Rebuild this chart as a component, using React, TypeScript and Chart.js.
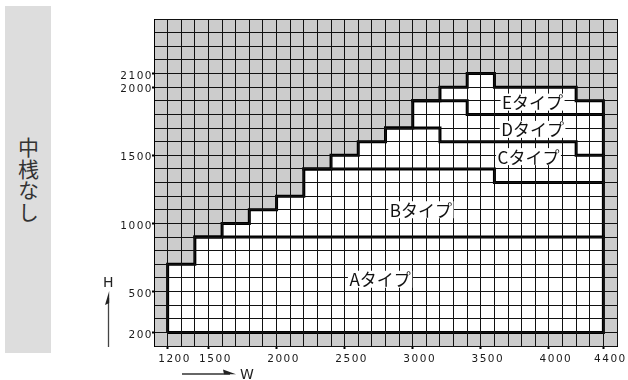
import React, { useEffect, useRef } from 'react';
import { Chart, registerables } from 'chart.js';

Chart.register(...registerables);

// ---- data ----
const xTickLabels = [1200, 1500, 2000, 2500, 3000, 3500, 4000, 4400];
const yTickLabels = [200, 500, 1000, 1500, 2000, 2100];

// overall feasible outline (W, H)
const outlineW = [1200, 1200, 1400, 1400, 1600, 1600, 1800, 1800, 2000, 2000, 2200, 2200, 2400, 2400, 2600, 2600, 2800, 2800, 3000, 3000, 3200, 3200, 3400, 3400, 3600, 3600, 4200, 4200, 4400, 4400, 1200];
const outlineH = [200, 700, 700, 900, 900, 1000, 1000, 1100, 1100, 1200, 1200, 1400, 1400, 1500, 1500, 1600, 1600, 1700, 1700, 1900, 1900, 2000, 2000, 2100, 2100, 2000, 2000, 1900, 1900, 200, 200];

// type boundaries
const abW = [1400, 4400];
const abH = [900, 900];
const bcW = [2200, 3600, 3600, 4400];
const bcH = [1400, 1400, 1300, 1300];
const cdW = [2800, 3200, 3200, 4200, 4200, 4400];
const cdH = [1700, 1700, 1600, 1600, 1500, 1500];
const deW = [3000, 3400, 3400, 4400];
const deH = [1900, 1900, 1800, 1800];

// type labels
const typeNames = ['Aタイプ', 'Bタイプ', 'Cタイプ', 'Dタイプ', 'Eタイプ'];
const typeLabelW = [2760, 3060, 3850, 3880, 3880];
const typeLabelH = [590, 1100, 1490, 1690, 1890];

const xMin = 1100, xMax = 4500, yMin = 100, yMax = 2500, gridStep = 100;

const pts = (ws: number[], hs: number[]) => ws.map((w, i) => ({ x: w, y: hs[i] }));

const bgPlugin = {
  id: 'bgPlugin',
  beforeDraw(chart: any) {
    const { ctx, chartArea } = chart;
    ctx.save();
    ctx.fillStyle = '#cccccc';
    ctx.fillRect(chartArea.left, chartArea.top, chartArea.right - chartArea.left, chartArea.bottom - chartArea.top);
    ctx.restore();
    try { (ctx as any).letterSpacing = '1.5px'; } catch (e) { /* ignore */ }
  },
  afterDraw(chart: any) {
    const { ctx, scales } = chart;
    try { (ctx as any).letterSpacing = '0px'; } catch (e) { /* ignore */ }
    ctx.save();
    ctx.font = '17px "Noto Sans CJK JP", "Noto Sans", sans-serif';
    ctx.textAlign = 'center';
    ctx.textBaseline = 'middle';
    typeNames.forEach((name, i) => {
      const px = scales.x.getPixelForValue(typeLabelW[i]);
      const py = scales.y.getPixelForValue(typeLabelH[i]);
      const w = ctx.measureText(name).width;
      ctx.fillStyle = '#ffffff';
      ctx.fillRect(px - w / 2 - 1.5, py - 8.5, w + 3, 17);
      ctx.fillStyle = '#111111';
      ctx.fillText(name, px, py + 0.5);
    });
    ctx.restore();
  },
};

const tickFont = { family: '"DejaVu Sans", sans-serif', size: 10.5 };

export default function App() {
  const ref = useRef<HTMLCanvasElement>(null);

  useEffect(() => {
    if (!ref.current) return;
    const lineDs = (ws: number[], hs: number[]) => ({
      data: pts(ws, hs),
      showLine: true,
      borderColor: '#000000',
      borderWidth: 3,
      pointRadius: 0,
      fill: false,
      tension: 0,
      borderJoinStyle: 'miter',
      borderCapStyle: 'square',
      order: 0,
    });
    const chart = new Chart(ref.current, {
      type: 'scatter',
      data: {
        datasets: [
          {
            data: pts(outlineW, outlineH),
            showLine: true,
            borderColor: '#000000',
            borderWidth: 3,
            backgroundColor: '#ffffff',
            fill: 'shape',
            pointRadius: 0,
            tension: 0,
            borderJoinStyle: 'miter',
            order: 10,
          } as any,
          lineDs(abW, abH) as any,
          lineDs(bcW, bcH) as any,
          lineDs(cdW, cdH) as any,
          lineDs(deW, deH) as any,
        ],
      },
      options: {
        responsive: false,
        animation: false,
        events: [],
        layout: { padding: { left: 0, right: 11, top: 19, bottom: 0 } },
        plugins: { legend: { display: false }, tooltip: { enabled: false } },
        scales: {
          x: {
            type: 'linear',
            position: 'bottom',
            min: xMin,
            max: xMax,
            afterBuildTicks: (s: any) => {
              const t = [];
              for (let v = xMin; v <= xMax; v += gridStep) t.push({ value: v });
              s.ticks = t;
            },
            afterFit: (s: any) => { s.height = 34; },
            ticks: {
              autoSkip: false,
              maxRotation: 0,
              minRotation: 0,
              labelOffset: 7,
              padding: 3.5,
              color: '#1a1a1a',
              font: tickFont,
              callback: (v: any) => (xTickLabels.includes(Number(v)) ? String(v) : ''),
            },
            grid: {
              z: 1,
              color: '#111111',
              lineWidth: 1,
              drawTicks: true,
              tickLength: 3,
              tickWidth: 2,
              tickColor: (c: any) => (c.tick && xTickLabels.includes(c.tick.value) ? '#000000' : 'rgba(0,0,0,0)'),
            },
            border: { display: true, color: '#000000', width: 1, z: 1 },
          },
          y: {
            type: 'linear',
            position: 'left',
            min: yMin,
            max: yMax,
            afterBuildTicks: (s: any) => {
              const t = [];
              for (let v = yMin; v <= yMax; v += gridStep) t.push({ value: v });
              s.ticks = t;
            },
            afterFit: (s: any) => { s.width = 154; },
            ticks: {
              autoSkip: false,
              labelOffset: 2.5,
              padding: -1,
              color: '#1a1a1a',
              font: tickFont,
              callback: (v: any) => (yTickLabels.includes(Number(v)) ? String(v) : ''),
            },
            grid: {
              z: 1,
              color: '#111111',
              lineWidth: 1,
              drawTicks: true,
              tickLength: 2,
              tickWidth: 2,
              tickColor: (c: any) => (c.tick && yTickLabels.includes(c.tick.value) ? '#000000' : 'rgba(0,0,0,0)'),
            },
            border: { display: true, color: '#000000', width: 1, z: 1 },
          },
        },
      } as any,
      plugins: [bgPlugin],
    });
    return () => chart.destroy();
  }, []);

  return (
    <div style={{ position: 'fixed', left: 0, top: 0, width: 628, height: 380, background: '#ffffff', overflow: 'hidden' }}>
      <div
        style={{
          position: 'absolute', left: 5, top: 6, width: 46, height: 347, background: '#dddddd',
          display: 'flex', alignItems: 'center', justifyContent: 'center',
        }}
      >
        <span style={{ writingMode: 'vertical-rl', fontFamily: '"Noto Sans CJK JP", sans-serif', fontSize: 21, color: '#333333', lineHeight: 1, letterSpacing: 0.5 }}>
          中桟なし
        </span>
      </div>
      <canvas ref={ref} width={628} height={380} style={{ position: 'absolute', left: 0, top: 0 }} />
      <span style={{ position: 'absolute', left: 103, top: 275, fontFamily: '"DejaVu Sans", sans-serif', fontSize: 14, lineHeight: 1, color: '#222222' }}>H</span>
      <span style={{ position: 'absolute', left: 240, top: 367, fontFamily: '"DejaVu Sans", sans-serif', fontSize: 14, lineHeight: 1, color: '#222222' }}>W</span>
      <svg width={628} height={380} style={{ position: 'absolute', left: 0, top: 0, pointerEvents: 'none' }}>
        <line x1={108.5} y1={347} x2={108.5} y2={298} stroke="#444444" strokeWidth={1.3} />
        <polygon points="109.2,291 105,305 109.2,303" fill="#222222" />
        <line x1={182} y1={374} x2={230} y2={374} stroke="#333333" strokeWidth={1.3} />
        <polygon points="236,374.3 223,369.5 224,374.3" fill="#222222" />
      </svg>
    </div>
  );
}
